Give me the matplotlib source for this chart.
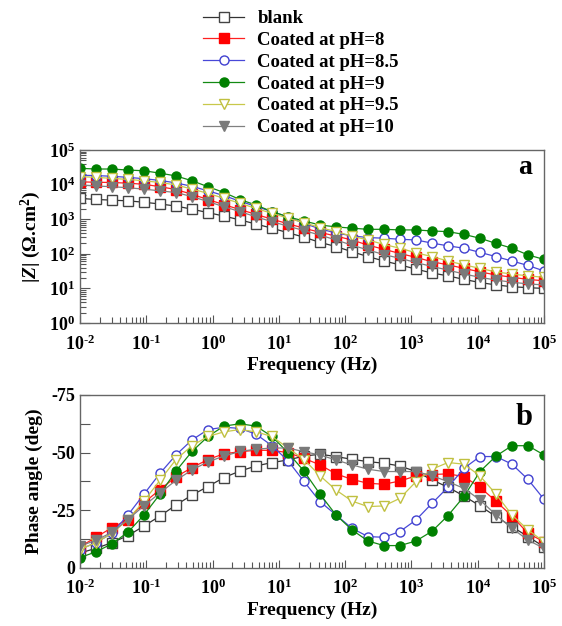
import math
import matplotlib
matplotlib.use("Agg")
import matplotlib.pyplot as plt
from matplotlib.ticker import FixedLocator, FuncFormatter, LogLocator, NullFormatter

plt.rcParams['font.family'] = ['Liberation Serif', 'DejaVu Serif']
plt.rcParams['font.weight'] = 'bold'
plt.rcParams['mathtext.fontset'] = 'custom'
plt.rcParams['mathtext.rm'] = 'Liberation Serif:bold'
plt.rcParams['mathtext.bf'] = 'Liberation Serif:bold'
plt.rcParams['mathtext.it'] = 'Liberation Serif:italic:bold'

# frequency points (Hz), ~4 per decade
freq = [0.01, 0.01744, 0.0304, 0.05298, 0.09237, 0.161, 0.2807, 0.4894, 0.8532,
        1.487, 2.593, 4.52, 7.88, 13.74, 23.95, 41.75, 72.79, 126.9, 221.3, 385.7,
        672.5, 1172, 2044, 3563, 6212, 10830, 18880, 32910, 57370, 100000]

labels = ['blank', 'Coated at pH=8', 'Coated at pH=8.5', 'Coated at pH=9',
          'Coated at pH=9.5', 'Coated at pH=10']

# |Z| in ohm.cm2
z_blank = [3980, 3720, 3550, 3390, 3090, 2750, 2400, 1950, 1550, 1230, 955, 725, 550, 407, 302,
           214, 162, 115, 83, 62, 48, 36, 28, 23, 18.2, 14.8, 12.6, 11.2, 10.5, 10.0]
z_ph8 = [12000, 11700, 11500, 11000, 10200, 8700, 7200, 5250, 3700, 2630, 1900, 1380, 1000, 740, 550,
         417, 324, 251, 178, 135, 102, 79, 59, 48, 38, 30, 24.5, 21, 18.2, 16.6]
z_ph85 = [18600, 18200, 17400, 16200, 14800, 13200, 11200, 8900, 6600, 4800, 3300, 2340, 1660, 1170, 760,
          525, 400, 330, 295, 282, 263, 251, 204, 170, 145, 110, 83, 62, 46, 32]
z_ph9 = [29500, 28200, 28200, 26300, 25100, 21400, 17800, 12900, 8700, 5900, 3700, 2570, 1660, 1170, 890,
         680, 600, 550, 510, 510, 490, 490, 457, 437, 363, 282, 200, 145, 93, 69]
z_ph95 = [17000, 16200, 15100, 14100, 12900, 11500, 9800, 7400, 5600, 4000, 2900, 2040, 1480, 1070, 790,
          575, 437, 324, 251, 186, 145, 107, 83, 62, 48, 38, 30, 26, 23, 21]
z_ph10 = [9800, 9100, 8700, 8100, 7400, 6600, 5900, 4500, 3240, 2290, 1660, 1170, 850, 630, 470,
          347, 251, 178, 129, 95, 74, 56, 43, 34, 26, 21, 17.4, 15.1, 13.5, 12.6]

# phase angle (deg)
p_blank = [-6.5, -8.5, -11, -14, -18.2, -22.5, -27.3, -31.6, -35.3, -39.2, -42, -44.2, -45.7, -46.8, -48.5,
           -49.3, -48.3, -47.1, -46.1, -45.4, -44.2, -41.8, -38.2, -35, -31.2, -26.9, -22.3, -17.9, -13.6, -9.2]
p_ph8 = [-9.2, -13.3, -17.5, -21, -28.3, -34, -39.5, -43.5, -47, -49.5, -50.4, -51, -51, -50, -47.5,
         -44.7, -40.8, -38.4, -36.7, -36.3, -37.7, -39.9, -40.5, -40.8, -39.6, -35, -28.9, -22.5, -15, -11.4]
p_ph85 = [-8, -11, -15, -23, -32, -41, -49, -55.5, -60, -61, -60.5, -58, -53, -46.5, -37.5,
          -28.8, -23, -17.2, -13.6, -13.3, -15.8, -20.8, -28, -35, -43.2, -48.3, -48.3, -45, -38.4, -29.8]
p_ph9 = [-4.5, -7, -10.5, -15.5, -23, -32, -42, -50.5, -57, -61.5, -62.5, -61.5, -57, -50, -42,
         -32, -23, -16.5, -11.7, -9.7, -9.7, -11.7, -15.9, -22.7, -31, -41.8, -48.5, -53, -53, -49]
p_ph95 = [-8, -11, -15, -21, -29, -38, -47, -53, -57, -59, -60, -59, -57, -52, -47,
          -40, -33.8, -29, -26.6, -26.9, -30.2, -37.4, -42.8, -45.7, -45, -39.9, -32, -23, -16.5, -11.4]
p_ph10 = [-9.5, -12, -15.5, -21, -27, -32.5, -38, -42.5, -46, -48.5, -50.5, -51.5, -52, -52, -50.4,
          -49, -46.8, -44.7, -42.8, -41.8, -41.8, -41.8, -40, -37.4, -34.5, -29.5, -23, -17.2, -12.1, -8.5]

x_decades = [1e-2, 1e-1, 1e0, 1e1, 1e2, 1e3, 1e4, 1e5]
z_decades = [1e0, 1e1, 1e2, 1e3, 1e4, 1e5]

z_all = [z_blank, z_ph8, z_ph85, z_ph9, z_ph95, z_ph10]
p_all = [p_blank, p_ph8, p_ph85, p_ph9, p_ph95, p_ph10]

styles = [
    dict(color='#333333', marker='s', mfc='white', mec='#444444'),
    dict(color='#ff2020', marker='s', mfc='#ff0000', mec='#ff0000'),
    dict(color='#4848d8', marker='o', mfc='white', mec='#4040d0'),
    dict(color='#138a13', marker='o', mfc='#008000', mec='#008000'),
    dict(color='#c8c84a', marker='v', mfc='white', mec='#c0c040'),
    dict(color='#808080', marker='v', mfc='#7a7a7a', mec='#7a7a7a'),
]

fig = plt.figure(figsize=(5.62, 6.26), dpi=100)
ax1 = fig.add_axes([0.1423, 0.484, 0.8256, 0.2764])
ax2 = fig.add_axes([0.1423, 0.0927, 0.8256, 0.2764])

handles = []
for z, p, st, lab in zip(z_all, p_all, styles, labels):
    h, = ax1.plot(freq, z, lw=0.9, ms=6.5, mew=1.0, label=lab, **st)
    ax2.plot(freq, p, lw=0.9, ms=6.5, mew=1.0, **st)
    handles.append(h)


def dec_fmt(v, pos):
    e = int(round(math.log10(v)))
    if e < 0:
        return r'$\mathbf{10^{\text{-}%d}}$' % (-e)
    return r'$\mathbf{10^{%d}}$' % e


for ax in (ax1, ax2):
    ax.set_xscale('log')
    ax.set_xlim(0.01, 1e5)
    ax.xaxis.set_major_locator(FixedLocator(x_decades))
    ax.xaxis.set_minor_locator(LogLocator(base=10, subs=range(2, 10), numticks=20))
    ax.xaxis.set_major_formatter(FuncFormatter(dec_fmt))
    ax.xaxis.set_minor_formatter(NullFormatter())
    ax.tick_params(axis='x', which='major', direction='in', length=6, width=0.8,
                   labelsize=13, pad=8, top=False, color='#555555')
    ax.tick_params(axis='x', which='minor', direction='in', length=4, width=0.8,
                   top=False, color='#555555')
    ax.tick_params(axis='y', which='both', direction='in', right=False, color='#555555',
                   width=0.8, labelsize=13)
    ax.tick_params(axis='y', which='major', length=7)
    for sp in ax.spines.values():
        sp.set_color('#666666')
        sp.set_linewidth(1.0)
    ax.set_xlabel('Frequency (Hz)', fontsize=14, fontweight='bold', labelpad=2)

ax1.set_yscale('log')
ax1.set_ylim(1, 1e5)
ax1.yaxis.set_major_locator(FixedLocator(z_decades))
ax1.yaxis.set_minor_locator(LogLocator(base=10, subs=range(2, 10), numticks=20))
ax1.yaxis.set_major_formatter(FuncFormatter(dec_fmt))
ax1.yaxis.set_minor_formatter(NullFormatter())
ax1.tick_params(axis='y', which='minor', length=4)
ax1.set_ylabel(r'$|Z|$ ($\Omega$.cm$^{2}$)', fontsize=14, fontweight='bold', labelpad=4)
ax1.text(0.975, 0.9, 'a', transform=ax1.transAxes, ha='right', va='center',
         fontsize=20, fontweight='bold')

ax2.set_ylim(0, -75)
ax2.yaxis.set_major_locator(FixedLocator([0, -25, -50, -75]))
ax2.yaxis.set_minor_locator(FixedLocator([-12.5, -37.5, -62.5]))
ax2.tick_params(axis='y', which='minor', length=7)
ax2.set_yticklabels(['0', '-25', '-50', '-75'])
ax2.set_ylabel('Phase angle (deg)', fontsize=14, fontweight='bold', labelpad=6)
ax2.text(0.975, 0.87, 'b', transform=ax2.transAxes, ha='right', va='center',
         fontsize=22, fontweight='bold')

fig.legend(handles=handles, loc='upper left', bbox_to_anchor=(0.361, 0.984),
           frameon=False, handlelength=2.2, handletextpad=0.7,
           labelspacing=0.25, borderpad=0, borderaxespad=0,
           prop=dict(family='Liberation Serif', weight='bold', size=13.5))

fig.savefig('out.png', dpi=100)
